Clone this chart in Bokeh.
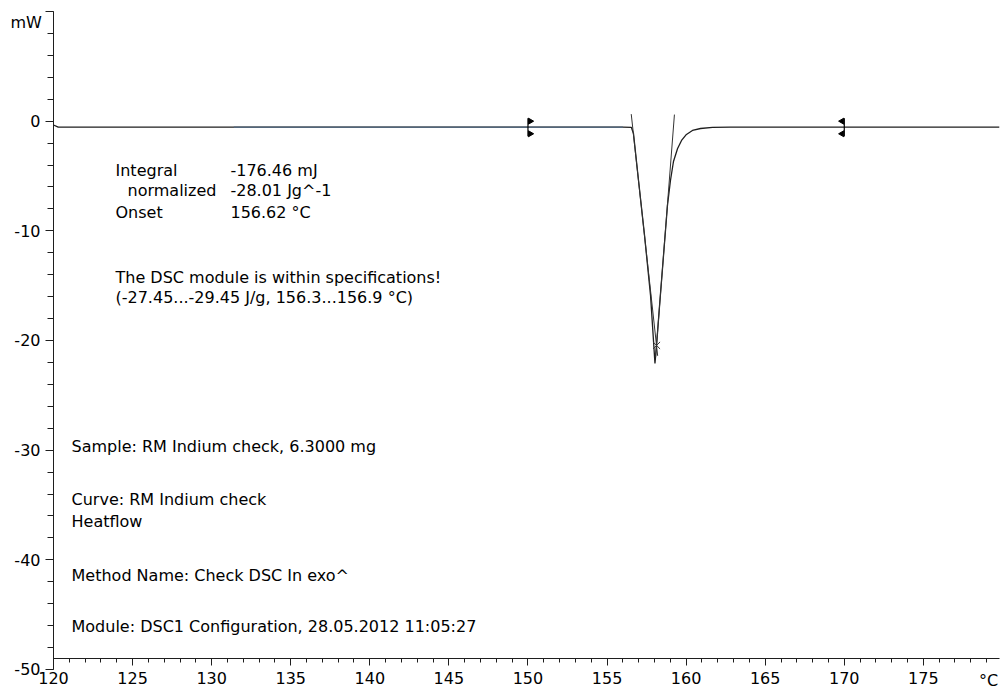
import numpy as np
from bokeh.plotting import figure
from bokeh.models import Range1d, SingleIntervalTicker, Label
from bokeh.embed import file_html
from bokeh.resources import INLINE

# DSC heat-flow curve of the indium check: temperature (°C) and heat flow (mW)
temperature = [120.0, 120.3, 125.0, 131.4, 140.0, 150.0, 156.0, 156.54, 156.67,
               156.99, 157.37, 157.75, 158.03, 158.13, 158.32, 158.57, 158.82,
               159.01, 159.20, 159.46, 159.71, 160.02, 160.40, 160.91, 161.67,
               162.80, 170.0, 179.8]
heat_flow = [-0.35, -0.55, -0.55, -0.55, -0.55, -0.55, -0.55, -0.575, -1.12,
             -5.41, -10.42, -15.89, -22.09, -20.45, -16.81, -12.25, -7.69,
             -5.41, -3.68, -2.49, -1.76, -1.21, -0.85, -0.67, -0.575,
             -0.55, -0.55, -0.55]

# evaluation results
baseline_level = -0.55
limits = [150.0, 170.0]
onset = 156.62
left_tangent_t = [156.53, 158.20]
left_tangent_mw = [0.64, -21.40]
right_tangent_t = [159.26, 158.07]
right_tangent_mw = [0.60, -21.50]
peak_cross_t = [158.13]
peak_cross_mw = [-20.45]
highlight_span = [131.4, 156.5]

# axis extents and ticks
x_bounds = (120, 179.8)
y_bounds = (-50, 10)
x_axis_at = -49
x_ticks_major = 5
y_ticks_major = 10
y_tick_values = [-50, -40, -30, -20, -10, 0, 10]
y_tick_labels = ["-50", "-40", "-30", "-20", "-10", "0", ""]

FONT = "DejaVu Sans"
INK = "#1e1e1e"

p = figure(width=1003, height=691, output_backend="svg", toolbar_location=None,
           x_range=Range1d(116.649, 180.067), y_range=Range1d(-52.01, 11.003),
           min_border_left=0, min_border_right=0, min_border_top=0,
           min_border_bottom=0)
p.outline_line_color = None
p.xgrid.visible = False
p.ygrid.visible = False
p.background_fill_color = "white"
p.border_fill_color = "white"

# axes, pinned to the data so they sit inside the drawing area
xa = p.xaxis[0]
xa.fixed_location = x_axis_at
xa.bounds = x_bounds
xa.ticker = SingleIntervalTicker(interval=x_ticks_major, num_minor_ticks=5)
xa.major_tick_out = 7
xa.major_tick_in = 0
xa.minor_tick_out = 4
xa.minor_tick_in = 0
xa.major_label_standoff = 7
ya = p.yaxis[0]
ya.fixed_location = x_bounds[0]
ya.bounds = y_bounds
ya.ticker = SingleIntervalTicker(interval=y_ticks_major, num_minor_ticks=5)
ya.major_tick_out = 8
ya.major_tick_in = 0
ya.minor_tick_out = 6
ya.minor_tick_in = 0
ya.major_label_standoff = 5
ya.major_label_overrides = dict(zip(y_tick_values, y_tick_labels))
for ax in (xa, ya):
    ax.axis_line_color = INK
    ax.major_tick_line_color = INK
    ax.minor_tick_line_color = INK
    ax.major_label_text_font = FONT
    ax.major_label_text_font_size = "16px"
    ax.major_label_text_color = "black"

# curve
t_arr = np.array(temperature)
h_arr = np.array(heat_flow)
p.line(t_arr, h_arr, line_color=INK, line_width=1.3)
mask = (t_arr >= highlight_span[0]) & (t_arr <= highlight_span[1])
p.line(t_arr[mask], h_arr[mask], line_color="#52667a", line_width=1.6)

# tangents and peak cross
p.line(left_tangent_t, left_tangent_mw, line_color="#333333", line_width=1)
p.line(right_tangent_t, right_tangent_mw, line_color="#333333", line_width=1)
p.scatter(peak_cross_t, peak_cross_mw, marker="x", size=10, line_color="#333333",
          line_width=1)

# integration limit flags
p.scatter(limits, [baseline_level] * 2, marker="dash", angle=np.pi / 2, size=18,
          line_color="black", line_width=1.2)
flag_dx = [0.14, -0.14]
flag_angle = [-np.pi / 2, np.pi / 2]
for lim, dx, ang in zip(limits, flag_dx, flag_angle):
    p.scatter([lim + dx, lim + dx], [baseline_level + 0.55, baseline_level - 0.6],
              marker="triangle", angle=ang, size=6, fill_color="black",
              line_color="black")

# annotations
def add_text(x, y, text, align="left"):
    p.add_layout(Label(x=x, y=y, text=text, text_font=FONT, text_font_size="16px",
                       text_baseline="middle", text_align=align,
                       text_color="black"))

add_text(123.92, -4.53, "Integral")
add_text(131.19, -4.53, "-176.46 mJ")
add_text(124.68, -6.32, "normalized")
add_text(131.19, -6.32, "-28.01 Jg^-1")
add_text(123.92, -8.30, "Onset")
add_text(131.19, -8.30, f"{onset:.2f} °C")
add_text(123.92, -14.23, "The DSC module is within specifications!")
add_text(123.92, -16.05, "(-27.45...-29.45 J/g, 156.3...156.9 °C)")
add_text(121.14, -29.66, "Sample: RM Indium check, 6.3000 mg")
add_text(121.14, -34.50, "Curve: RM Indium check")
add_text(121.14, -36.51, "Heatflow")
add_text(121.14, -41.43, "Method Name: Check DSC In exo^")
add_text(121.14, -46.08, "Module: DSC1 Configuration, 28.05.2012 11:05:27")

# axis units
add_text(117.28, 9.0, "mW")
add_text(179.12, -51.0, "°C", align="center")

open("out.html", "w").write(file_html(p, INLINE))
